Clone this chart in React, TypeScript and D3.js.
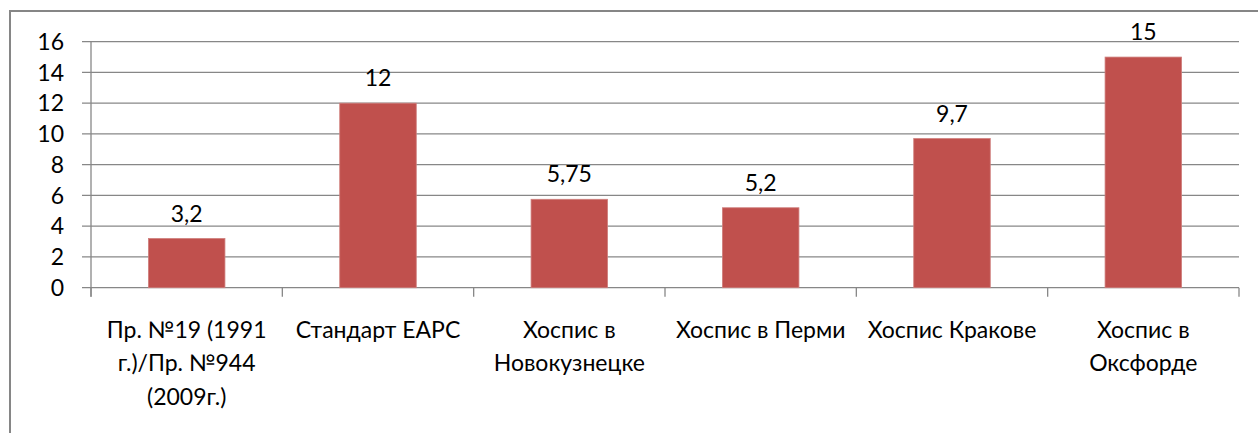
// Bar chart: staffing norms, hospices comparison

import React, { useRef, useEffect } from 'react';
import * as d3 from 'd3';

const CATEGORIES = [
  ['Пр. №19 (1991', 'г.)/Пр. №944', '(2009г.)'],
  ['Стандарт EAPC'],
  ['Хоспис в', 'Новокузнецке'],
  ['Хоспис в Перми'],
  ['Хоспис Кракове'],
  ['Хоспис в', 'Оксфорде'],
];
const VALUES = [3.2, 12, 5.75, 5.2, 9.7, 15];
const Y_TICKS = [0, 2, 4, 6, 8, 10, 12, 14, 16];

function App() {
  const ref = useRef<SVGSVGElement>(null);

  useEffect(() => {
    const svg = d3.select(ref.current);
    svg.selectAll('*').remove();

    const width = 1258;
    const height = 433;
    const left = 91;
    const right = 1239;
    const top = 41.7;
    const bottom = 287.7;
    const font = 'Lato, "Open Sans", sans-serif';
    const fontSize = '23px';
    const gridColor = '#878787';

    // outer frame (runs off the right and bottom edges)
    svg.append('rect')
      .attr('x', 10)
      .attr('y', 11)
      .attr('width', width + 20)
      .attr('height', height + 20)
      .attr('fill', 'white')
      .attr('stroke', '#868686')
      .attr('stroke-width', 2);

    const x = d3.scaleBand<number>()
      .domain(d3.range(CATEGORIES.length))
      .range([left, right])
      .padding(0);

    const y = d3.scaleLinear().domain([0, 16]).range([bottom, top]);

    // gridlines + y ticks
    svg.append('g')
      .selectAll('line')
      .data(Y_TICKS)
      .enter()
      .append('line')
      .attr('x1', left - 9)
      .attr('x2', right)
      .attr('y1', d => y(d))
      .attr('y2', d => y(d))
      .attr('stroke', gridColor)
      .attr('stroke-width', 1.3);

    svg.append('g')
      .selectAll('text')
      .data(Y_TICKS)
      .enter()
      .append('text')
      .attr('x', 64)
      .attr('y', d => y(d))
      .attr('dy', '0.36em')
      .attr('text-anchor', 'end')
      .style('font-family', font)
      .style('font-size', fontSize)
      .attr('fill', 'black')
      .text(d => d);

    // y axis line
    svg.append('line')
      .attr('x1', left)
      .attr('x2', left)
      .attr('y1', top)
      .attr('y2', bottom + 9)
      .attr('stroke', gridColor)
      .attr('stroke-width', 1.3);

    // x category ticks
    const xTicks = d3.range(CATEGORIES.length + 1).map(i => left + i * x.step());
    svg.append('g')
      .selectAll('line')
      .data(xTicks)
      .enter()
      .append('line')
      .attr('x1', d => d)
      .attr('x2', d => d)
      .attr('y1', bottom)
      .attr('y2', bottom + 9)
      .attr('stroke', gridColor)
      .attr('stroke-width', 1.3);

    // bars
    const barW = x.bandwidth() * 0.4;
    svg.append('g')
      .selectAll('rect')
      .data(VALUES)
      .enter()
      .append('rect')
      .attr('x', (d, i) => (x(i) as number) + (x.bandwidth() - barW) / 2)
      .attr('y', d => y(d))
      .attr('width', barW)
      .attr('height', d => bottom - y(d))
      .attr('fill', '#C0504D')
      .attr('stroke', '#CF7F7D')
      .attr('stroke-width', 0.8);

    // value labels
    svg.append('g')
      .selectAll('text')
      .data(VALUES)
      .enter()
      .append('text')
      .attr('x', (d, i) => (x(i) as number) + x.bandwidth() / 2)
      .attr('y', d => y(d) - 17)
      .attr('text-anchor', 'middle')
      .style('font-family', font)
      .style('font-size', fontSize)
      .attr('fill', 'black')
      .text(d => String(d).replace('.', ','));

    // category labels
    CATEGORIES.forEach((lines, i) => {
      const t = svg.append('text')
        .attr('text-anchor', 'middle')
        .style('font-family', font)
        .style('font-size', fontSize)
        .attr('fill', 'black');
      lines.forEach((line, j) => {
        t.append('tspan')
          .attr('x', (x(i) as number) + x.bandwidth() / 2)
          .attr('y', bottom + 50 + j * 33.5)
          .text(line);
      });
    });
  }, []);

  return (
    <svg
      ref={ref}
      width={1258}
      height={433}
      style={{ position: 'absolute', left: 0, top: 0 }}
    />
  );
}

export default App;
